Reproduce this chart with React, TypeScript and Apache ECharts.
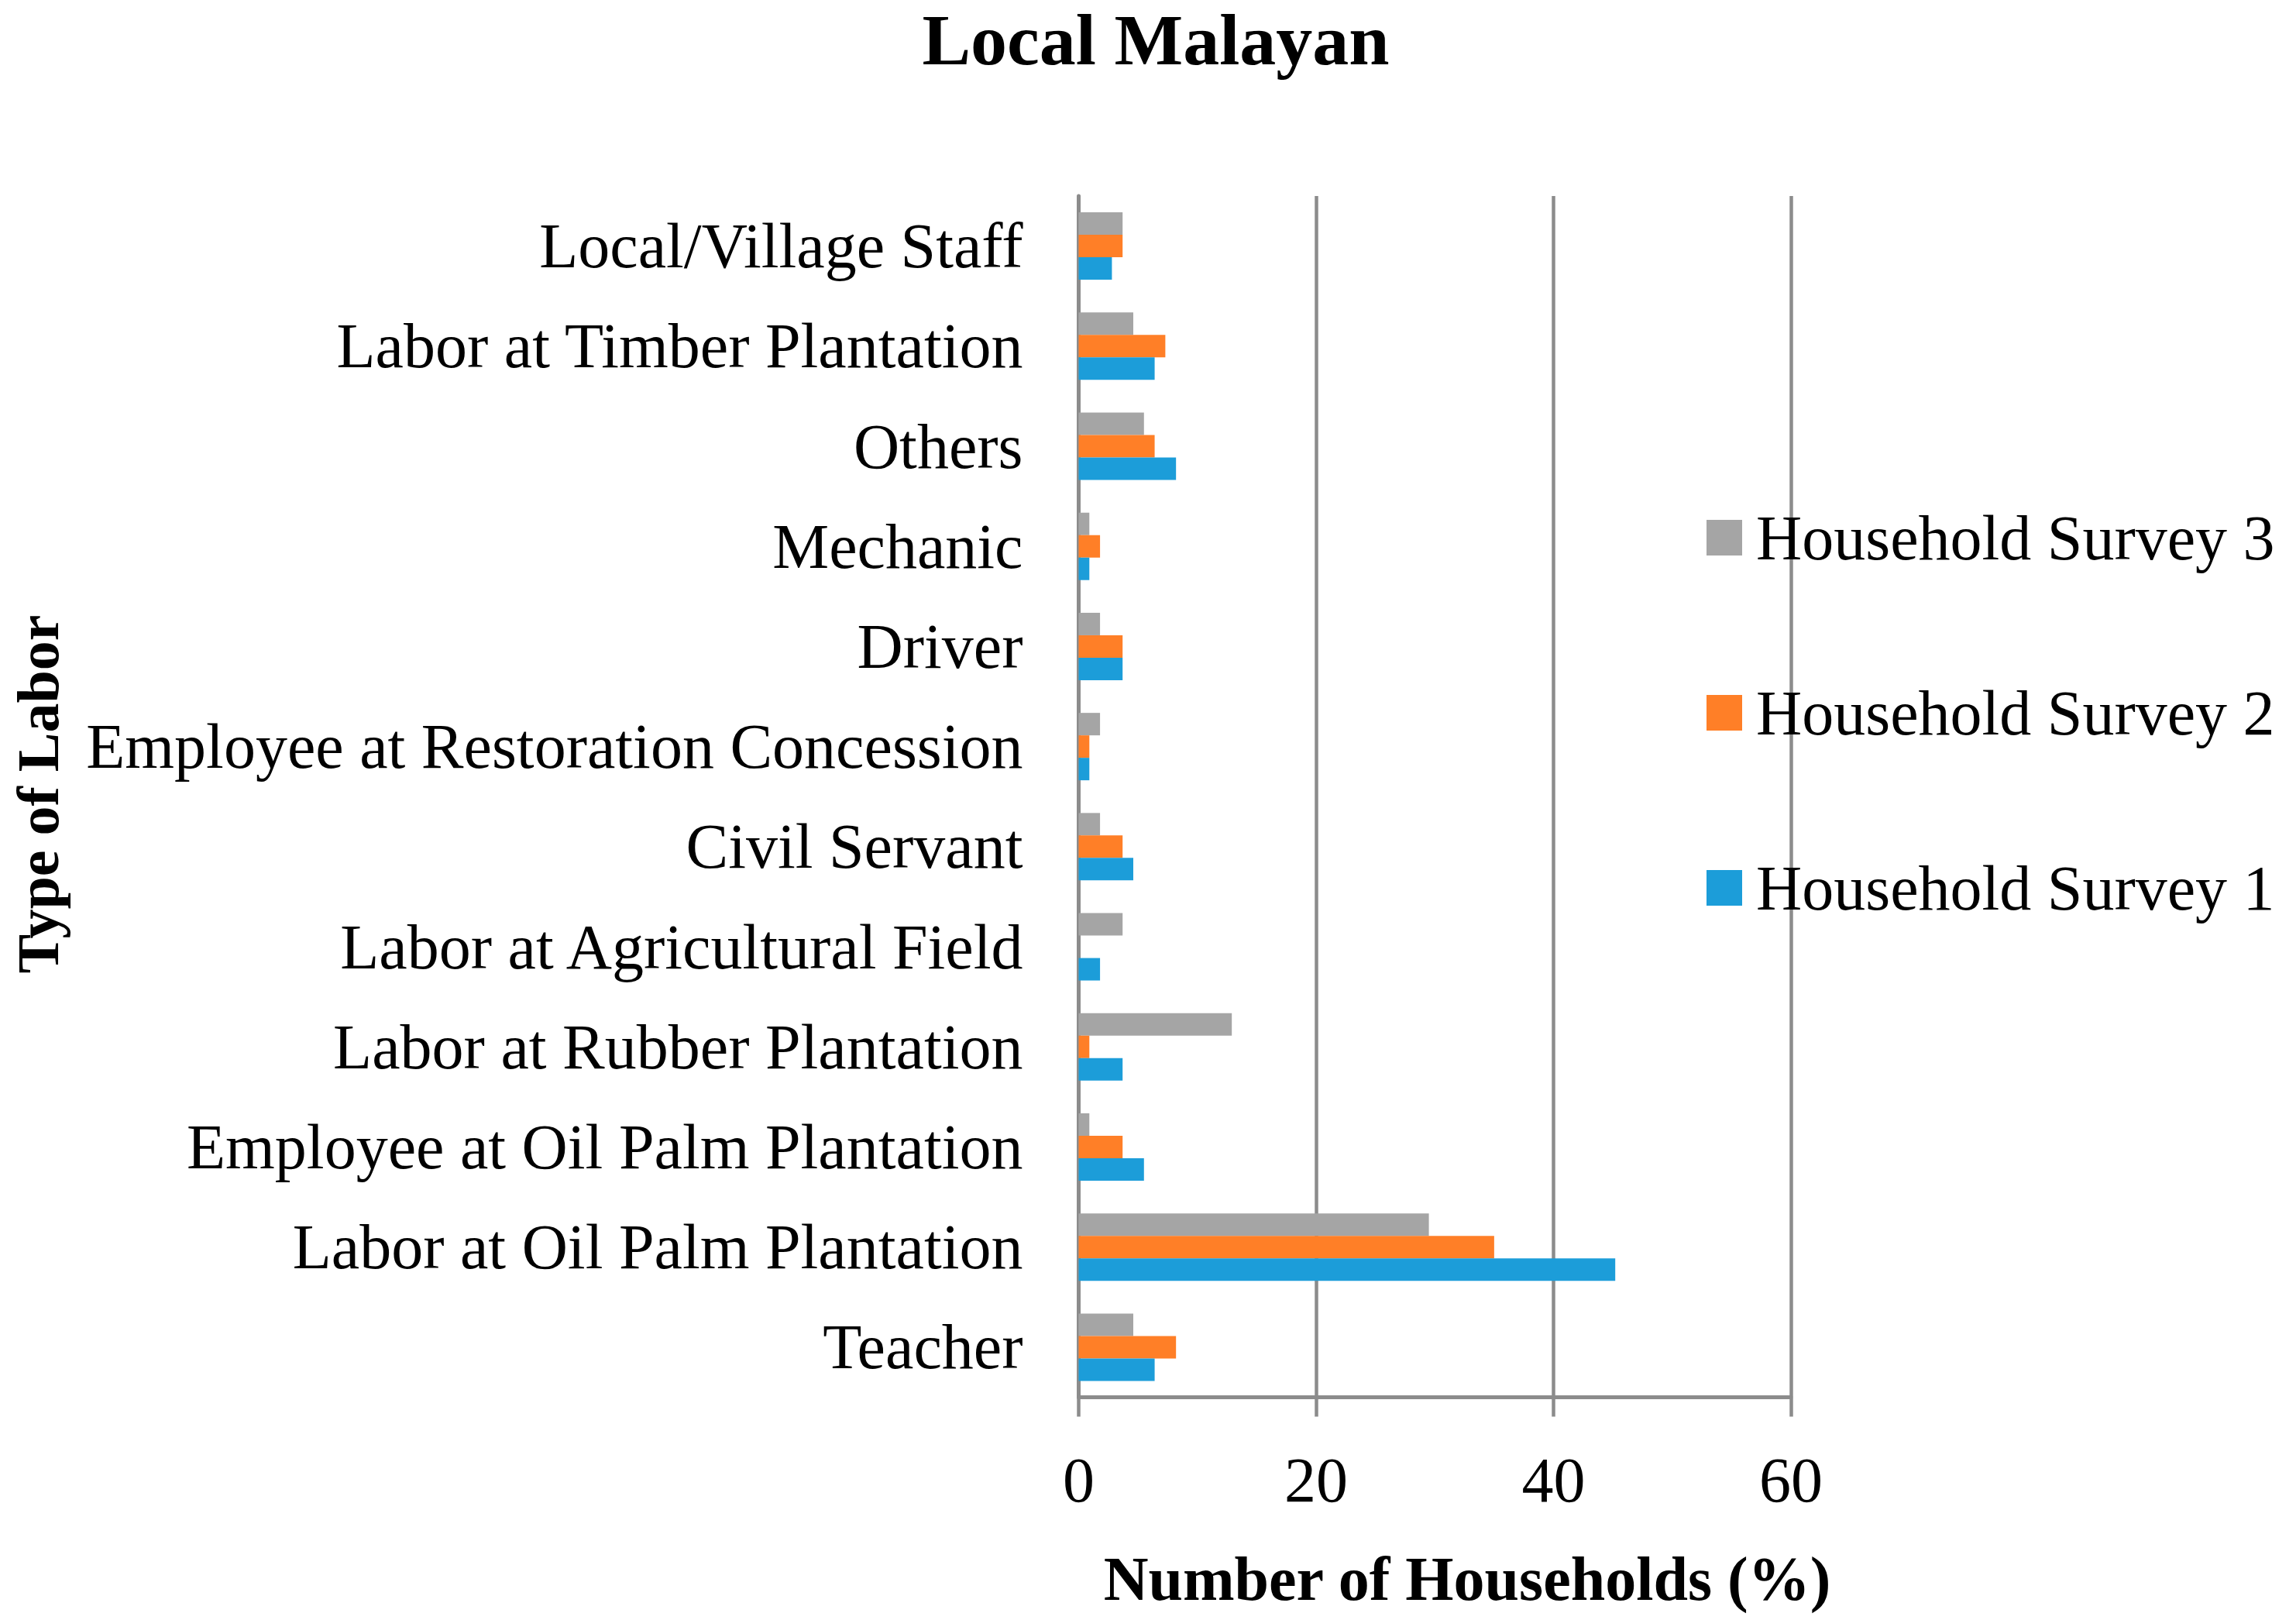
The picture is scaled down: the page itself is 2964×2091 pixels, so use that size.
import React, { useEffect, useRef } from "react";
import * as echarts from "echarts";

const categories = [
  "Teacher",
  "Labor at Oil Palm Plantation",
  "Employee at Oil Palm Plantation",
  "Labor at Rubber Plantation",
  "Labor at Agricultural Field",
  "Civil Servant",
  "Employee at Restoration Concession",
  "Driver",
  "Mechanic",
  "Others",
  "Labor at Timber Plantation",
  "Local/Village Staff",
];

const survey1 = [6.4, 45.2, 5.5, 3.7, 1.8, 4.6, 0.9, 3.7, 0.9, 8.2, 6.4, 2.8];
const survey2 = [8.2, 35.0, 3.7, 0.9, 0, 3.7, 0.9, 3.7, 1.8, 6.4, 7.3, 3.7];
const survey3 = [4.6, 29.5, 0.9, 12.9, 3.7, 1.8, 1.8, 1.8, 0.9, 5.5, 4.6, 3.7];

const seriesNames = ["Household Survey 3", "Household Survey 2", "Household Survey 1"];
const xTicks = [0, 20, 40, 60];

const FONT = "'Liberation Serif', 'Times New Roman', serif";
const GRAY_LINE = "#8C8C8C";

export default function App() {
  const ref = useRef<HTMLDivElement>(null);

  useEffect(() => {
    document.body.style.margin = "0";
    if (!ref.current) return;
    const chart = echarts.init(ref.current, undefined, { renderer: "svg" });
    const colors = ["#A5A5A5", "#FF7F27", "#1C9DD9"];
    const dataSets = [survey3, survey2, survey1];
    chart.setOption({
      animation: false,
      backgroundColor: "#ffffff",
      grid: { left: 1392.5, right: 652, top: 253, bottom: 287.5 },
      xAxis: {
        type: "value",
        min: xTicks[0],
        max: xTicks[xTicks.length - 1],
        interval: 20,
        axisLine: { show: true, lineStyle: { color: GRAY_LINE, width: 5 } },
        axisTick: { show: true, length: 25, lineStyle: { color: GRAY_LINE, width: 4.5 } },
        splitLine: { show: true, lineStyle: { color: GRAY_LINE, width: 4.5 } },
        axisLabel: { fontFamily: FONT, fontSize: 82, color: "#000", margin: 66 },
      },
      yAxis: {
        type: "category",
        data: categories,
        axisLine: { show: true, lineStyle: { color: GRAY_LINE, width: 5 } },
        axisTick: { show: false },
        axisLabel: {
          fontFamily: FONT,
          fontSize: 82,
          color: "#000",
          margin: 72,
          padding: [0, 0, 6, 0],
        },
      },
      legend: {
        orient: "vertical",
        left: 2198,
        top: 648,
        itemWidth: 46,
        itemHeight: 46,
        itemGap: 144,
        icon: "rect",
        data: seriesNames,
        textStyle: {
          fontFamily: FONT,
          fontSize: 82,
          lineHeight: 82,
          color: "#000",
          padding: [0, 0, 0, 13],
        },
      },
      series: seriesNames.map((name, i) => ({
        name,
        type: "bar",
        data: dataSets[i],
        barWidth: 29,
        barGap: "0%",
        itemStyle: { color: colors[i] },
      })),
      graphic: [
        {
          type: "text",
          x: 1492,
          y: 51,
          style: {
            text: "Local Malayan",
            font: `bold 94px ${FONT}`,
            fill: "#000",
            align: "center",
            verticalAlign: "middle",
          },
        },
        {
          type: "text",
          x: 1894,
          y: 2038,
          style: {
            text: "Number of Households (%)",
            font: `bold 80px ${FONT}`,
            fill: "#000",
            align: "center",
            verticalAlign: "middle",
          },
        },
        {
          type: "text",
          x: 49,
          y: 1025,
          rotation: Math.PI / 2,
          style: {
            text: "Type of Labor",
            font: `bold 76px ${FONT}`,
            fill: "#000",
            align: "center",
            verticalAlign: "middle",
          },
        },
      ],
    });
    return () => chart.dispose();
  }, []);

  return (
    <div
      ref={ref}
      style={{ position: "absolute", left: 0, top: 0, width: 2964, height: 2091 }}
    />
  );
}
